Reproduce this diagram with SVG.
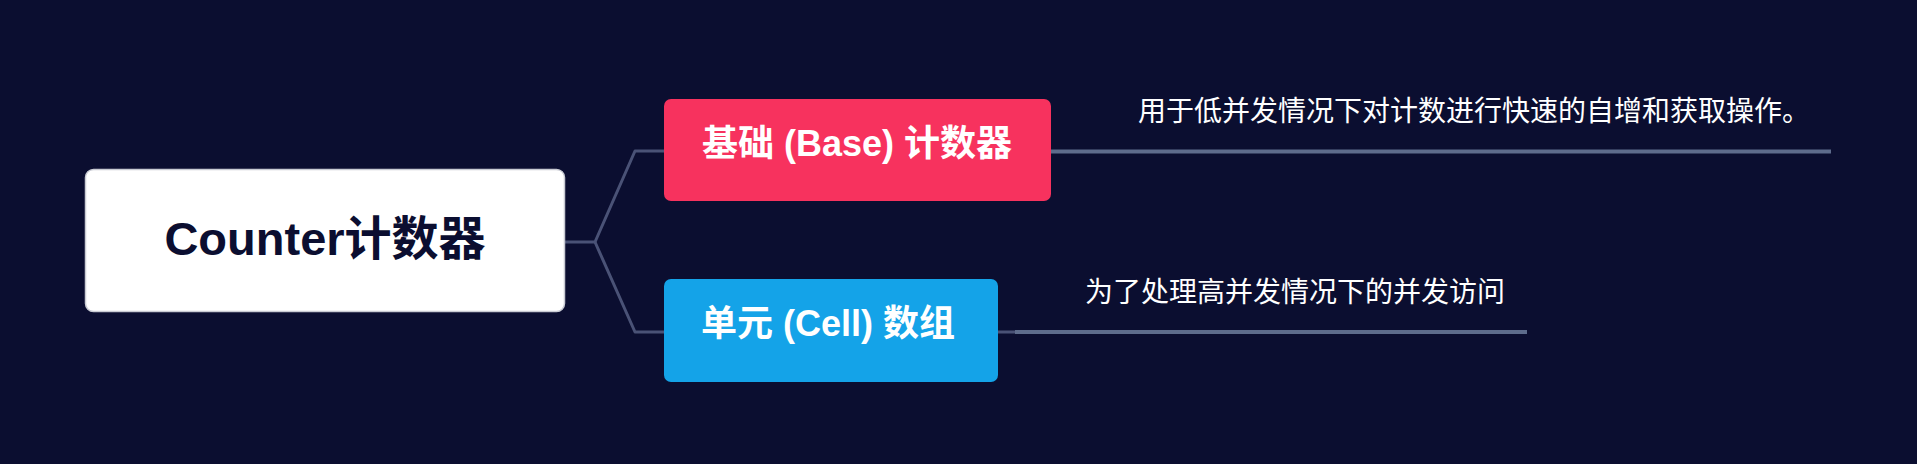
<svg xmlns="http://www.w3.org/2000/svg" width="1917" height="464" viewBox="0 0 1917 464">
<style>
.bg{fill:#0b0e30}
.title{font-family:"Liberation Sans","Noto Sans CJK SC",sans-serif;font-weight:bold}
.note{font-family:"Noto Sans CJK SC","Liberation Sans",sans-serif;font-size:28px;fill:#ffffff}
.conn{fill:none;stroke:#4a5276;stroke-width:3;stroke-linejoin:round}
.under{fill:none;stroke:#5e6c8c;stroke-width:4}
</style>
<rect class="bg" x="0" y="0" width="1917" height="464"/>
<g id="connectors">
<path class="conn" d="M565 242 H595 L635 151 H664"/>
<path class="conn" d="M595 242 L635 332 H664"/>
<path class="under" d="M1051 151.5 H1831"/>
<path class="conn" d="M997 332 H1015"/>
<path class="under" d="M1015 332 H1527"/>
</g>
<g id="root">
<rect x="85.5" y="169.5" width="479" height="142" rx="8" fill="#ffffff" stroke="#c9cbd3" stroke-width="1.5"/>
<text class="title" x="325" y="255" font-size="47" fill="#0b0e30" text-anchor="middle">Counter计数器</text>
</g>
<g id="base">
<rect x="664" y="99" width="387" height="102" rx="7" fill="#f7325e"/>
<text class="title" x="857" y="156" font-size="36" fill="#ffffff" text-anchor="middle">基础 (Base) 计数器</text>
</g>
<g id="base-note">
<text class="note" x="1138" y="121">用于低并发情况下对计数进行快速的自增和获取操作。</text>
</g>
<g id="cell">
<rect x="664" y="279" width="334" height="103" rx="7" fill="#14a3e8"/>
<text class="title" x="828" y="336" font-size="36" fill="#ffffff" text-anchor="middle">单元 (Cell) 数组</text>
</g>
<g id="cell-note">
<text class="note" x="1085" y="302">为了处理高并发情况下的并发访问</text>
</g>
</svg>
